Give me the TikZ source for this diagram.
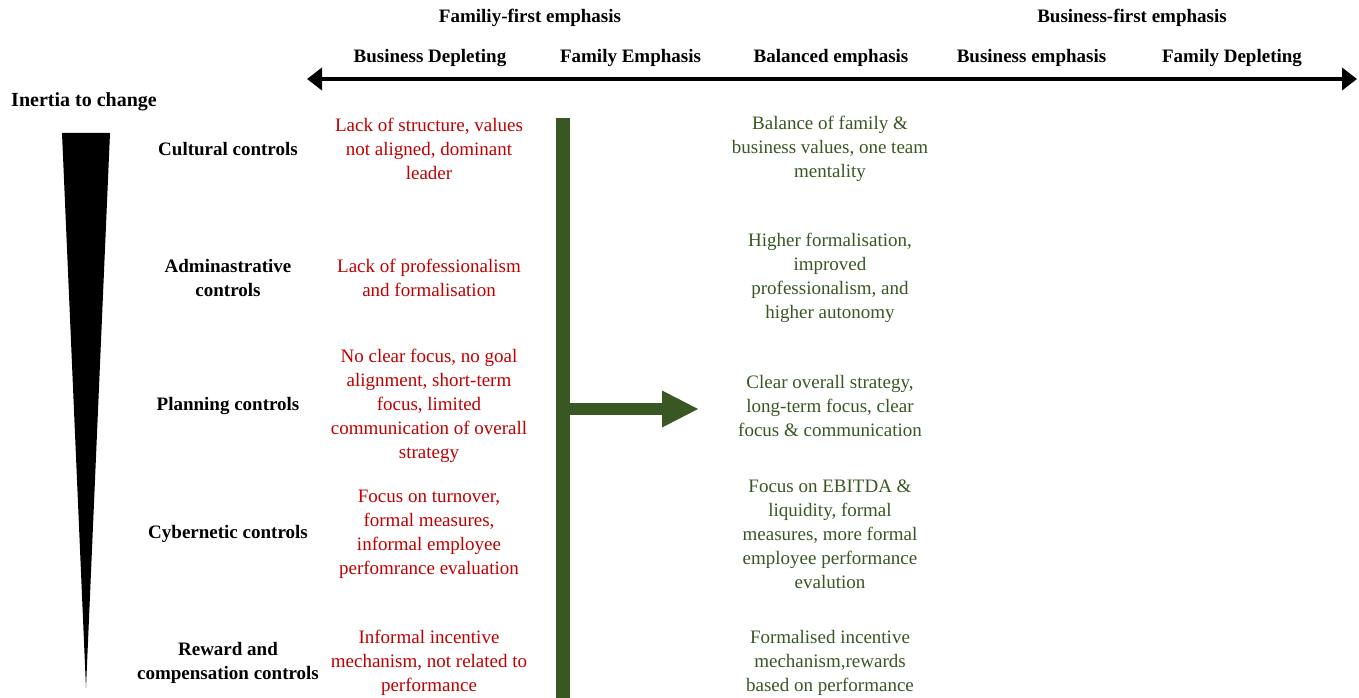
\documentclass[tikz,border=0pt]{standalone}
\usepackage{fontspec}
\setmainfont{Liberation Serif}
\usetikzlibrary{positioning, arrows.meta}
\definecolor{lossred}{RGB}{192,0,0}
\definecolor{gaingreen}{RGB}{56,87,35}

\begin{document}
\begin{tikzpicture}[x=1pt,y=-1pt,inner sep=0pt,node distance=200.5pt,
  font=\fontsize{19}{24}\selectfont,
  head/.style={font=\fontsize{19}{24}\selectfont\bfseries},
  ctrl/.style={head,align=center},
  weak/.style={align=center,text=lossred},
  good/.style={align=center,text=gaingreen}]
\useasboundingbox (0,0) rectangle (1359,698);

% top scale
\draw node [head] (famfirst) at (530,18)  {Familiy-first emphasis};
\draw node [head] (busfirst) at (1132,18) {Business-first emphasis};
\draw node [head] (bdep) at (430,58)         {Business Depleting};
\draw node [head] [right of=bdep] (femp)  {Family Emphasis};
\draw node [head] [right of=femp] (bal)   {Balanced emphasis};
\draw node [head] [right of=bal]  (bemp)  {Business emphasis};
\draw node [head] [right of=bemp] (fdep)  {Family Depleting};
\coordinate (axisL) at (307,79);
\coordinate (axisR) at (1357,79);
\draw [line width=4pt,{Triangle[length=15pt,width=22pt]}-{Triangle[length=15pt,width=22pt]}] (axisL) -- (axisR);

% inertia wedge
\draw node [head,font=\fontsize{20}{24}\selectfont\bfseries] (inertia) at (84,102) {Inertia to change};
\fill (62,133) -- (110,133) -- (86,688) -- cycle;

% control types
\draw node [ctrl] (cult)  at (228,149) {Cultural controls};
\draw node [ctrl] (admin) at (228,278) {Adminastrative\\controls};
\draw node [ctrl] (plan)  at (228,406) {Planning controls};
\draw node [ctrl] (cyb)   at (228,534) {Cybernetic controls};
\draw node [ctrl] (rew)   at (228,663) {Reward and\\compensation controls};

% before
\draw node [weak] (cultW)  at (429,149) {Lack of structure, values\\not aligned, dominant\\leader};
\draw node [weak] (adminW) at (429,278) {Lack of professionalism\\and formalisation};
\draw node [weak] (planW)  at (429,406) {No clear focus, no goal\\alignment, short-term\\focus, limited\\communication of overall\\strategy};
\draw node [weak] (cybW)   at (429,534) {Focus on turnover,\\formal measures,\\informal employee\\perfomrance evaluation};
\draw node [weak] (rewW)   at (429,663) {Informal incentive\\mechanism, not related to\\performance};

% shift
\coordinate (barTop) at (563,118);
\coordinate (barBot) at (563,698);
\draw [gaingreen,line width=14pt] (barTop) -- (barBot);
\coordinate (push)    at (563,409);
\coordinate (pushEnd) at (699,409);
\draw [gaingreen,line width=12pt,-{Triangle[length=37pt,width=34pt]}] (push) -- (pushEnd);

% after
\draw node [good] (cultG)  at (830,149) {Balance of family \&\\business values, one team\\mentality};
\draw node [good] (adminG) at (830,278) {Higher formalisation,\\improved\\professionalism, and\\higher autonomy};
\draw node [good] (planG)  at (830,406) {Clear overall strategy,\\long-term focus, clear\\focus \& communication};
\draw node [good] (cybG)   at (830,534) {Focus on EBITDA \&\\liquidity, formal\\measures, more formal\\employee performance\\evalution};
\draw node [good] (rewG)   at (830,663) {Formalised incentive\\mechanism,rewards\\based on performance};
\end{tikzpicture}
\end{document}
